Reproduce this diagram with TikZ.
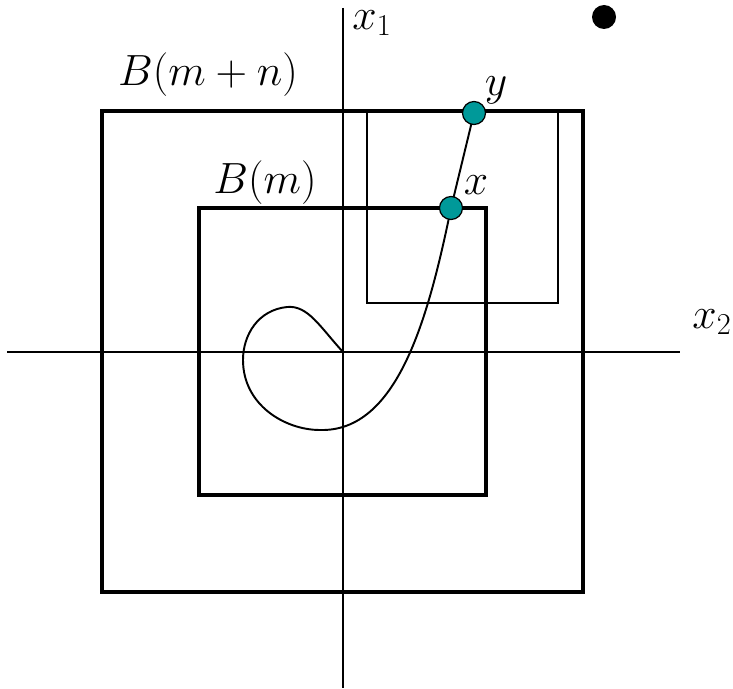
\documentclass[tikz,border=0pt]{standalone}
\definecolor{dotteal}{HTML}{009999}
\usepackage{tikz}
\usetikzlibrary{positioning, calc}

\tikzset{
  ballbox/.style={line width=2pt},
  axisline/.style={line width=1.1pt},
  pathdot/.style={circle, fill=dotteal, draw=black, line width=0.7pt, inner sep=0pt, minimum size=0.46cm},
  lbl/.style={font=\fontsize{24}{28}\selectfont, inner sep=1pt}
}

\begin{document}
\begin{tikzpicture}[x=0.02cm, y=-0.02cm]
  \useasboundingbox (0,0) rectangle (733,689);

  % axes
  \coordinate (o) at (343,352);
  \draw[axisline] (7,352) -- (680,352);
  \draw[axisline] (343,8) -- (343,688);
  \node[lbl] (xone) at (372,23) {$x_1$};
  \node[lbl] (xtwo) at (712,322) {$x_2$};

  % boxes
  \draw[ballbox] (102,111) rectangle (583,592);
  \draw[ballbox] (199,208) rectangle (486,495);
  \draw[axisline] (367,113) -- (367,303) -- (558,303) -- (558,113);
  \node[lbl] (bmn) at (208,75) {$B(m+n)$};
  \node[lbl] (bm) at (265,183) {$B(m)$};

  % path from origin
  \coordinate (px) at (451,208);
  \coordinate (py) at (474,113);
  \draw[axisline] (o) .. controls (320,327) and (308,305) .. (287,307)
    .. controls (258,310) and (243,335) .. (243,360)
    .. controls (243,405) and (285,430) .. (320,430)
    .. controls (397,432) and (428,320) .. (px) -- (py);

  \node[pathdot] (dx) at (px) {};
  \node[pathdot] (dy) at (py) {};
  \node[lbl] (lx) at (476,185) {$x$};
  \node[lbl] (ly) at (496,90) {$y$};

  \node[circle, fill=black, inner sep=0pt, minimum size=0.48cm] (pt) at (604,17) {};
\end{tikzpicture}
\end{document}
